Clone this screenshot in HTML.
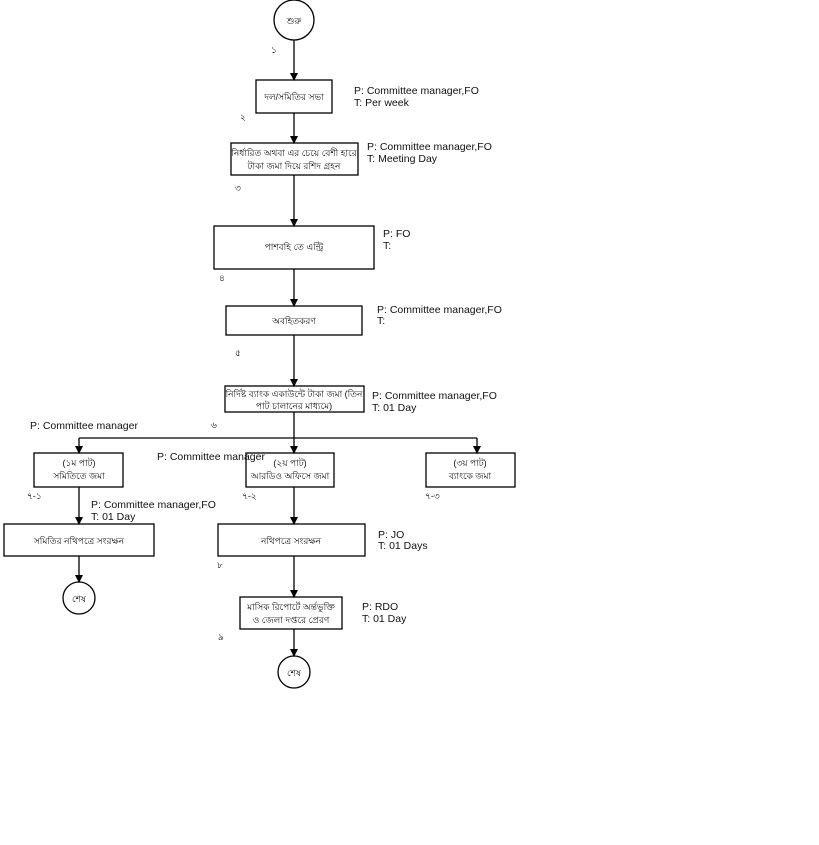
<!DOCTYPE html>
<html><head><meta charset="utf-8"><style>
html,body{margin:0;padding:0;background:#fff;}
svg{display:block;}
text{font-family:"Liberation Sans","Noto Sans CJK SC",sans-serif;font-size:9px;fill:#111;}
.l{font-size:10.5px;}
</style></head><body>
<svg width="819" height="845" viewBox="0 0 819 845" xmlns="http://www.w3.org/2000/svg">
<defs><marker id="a" markerWidth="8" markerHeight="8" refX="7" refY="4" orient="auto" markerUnits="userSpaceOnUse"><path d="M0,0 L8,4 L0,8 z" fill="#000"/></marker></defs>
<g fill="none" stroke="#000" stroke-width="1.3">
<circle cx="294" cy="20" r="20"/>
<line x1="294" y1="40" x2="294" y2="80" marker-end="url(#a)"/>
<rect x="256" y="80" width="76" height="33"/>
<line x1="294" y1="113" x2="294" y2="143" marker-end="url(#a)"/>
<rect x="231" y="143" width="127" height="32"/>
<line x1="294" y1="175" x2="294" y2="226" marker-end="url(#a)"/>
<rect x="214" y="226" width="160" height="43"/>
<line x1="294" y1="269" x2="294" y2="306" marker-end="url(#a)"/>
<rect x="226" y="306" width="136" height="29"/>
<line x1="294" y1="335" x2="294" y2="386" marker-end="url(#a)"/>
<rect x="225" y="386" width="139" height="26"/>
<line x1="294" y1="412" x2="294" y2="438"/>
<line x1="79" y1="438" x2="477" y2="438"/>
<line x1="79" y1="438" x2="79" y2="453" marker-end="url(#a)"/>
<line x1="294" y1="438" x2="294" y2="453" marker-end="url(#a)"/>
<line x1="477" y1="438" x2="477" y2="453" marker-end="url(#a)"/>
<rect x="34" y="453" width="89" height="34"/>
<rect x="246" y="453" width="88" height="34"/>
<rect x="426" y="453" width="89" height="34"/>
<line x1="79" y1="487" x2="79" y2="524" marker-end="url(#a)"/>
<rect x="4" y="524" width="150" height="32"/>
<line x1="79" y1="556" x2="79" y2="582" marker-end="url(#a)"/>
<circle cx="79" cy="598" r="16"/>
<line x1="294" y1="487" x2="294" y2="524" marker-end="url(#a)"/>
<rect x="218" y="524" width="147" height="32"/>
<line x1="294" y1="556" x2="294" y2="597" marker-end="url(#a)"/>
<rect x="240" y="597" width="102" height="32"/>
<line x1="294" y1="629" x2="294" y2="656" marker-end="url(#a)"/>
<circle cx="294" cy="672" r="16"/>
</g>
<g text-anchor="middle">
<text x="294" y="24">শুরু</text>
<text x="294" y="100">দল/সমিতির সভা</text>
<text x="294" y="156">নির্ধারিত অথবা এর চেয়ে বেশী হারে</text>
<text x="294" y="169">টাকা জমা দিয়ে রশিদ গ্রহন</text>
<text x="294" y="250">পাশবহি তে এন্ট্রি</text>
<text x="294" y="324">অবহিতকরণ</text>
<text x="294" y="397">নির্দিষ্ট ব্যাংক একাউন্টে টাকা জমা  (তিন</text>
<text x="294" y="409">পাট চালানের মাধ্যমে)</text>
<text x="79" y="466">(১ম পাট)</text>
<text x="79" y="479">সমিতিতে জমা</text>
<text x="290" y="466">(২য় পাট)</text>
<text x="290" y="479">আরডিও অফিসে জমা</text>
<text x="470" y="466">(৩য় পাট)</text>
<text x="470" y="479">ব্যাংকে জমা</text>
<text x="79" y="544">সমিতির নথিপত্রে সংরক্ষন</text>
<text x="291" y="544">নথিপত্রে সংরক্ষন</text>
<text x="291" y="610">মাসিক রিপোর্টে অর্ন্তভুক্তি</text>
<text x="291" y="623">ও জেলা দপ্তরে প্রেরণ</text>
<text x="79" y="602">শেষ</text>
<text x="294" y="676">শেষ</text>
</g>
<text x="271" y="53">১</text>
<text x="240" y="120">২</text>
<text x="235" y="191">৩</text>
<text x="219" y="281">৪</text>
<text x="235" y="356">৫</text>
<text x="211" y="428">৬</text>
<text x="27" y="499">৭-১</text>
<text x="242" y="499">৭-২</text>
<text x="425" y="499">৭-৩</text>
<text x="217" y="568">৮</text>
<text x="218" y="640">৯</text>
<g class="l">
<text class="l" x="354" y="94">P:  Committee manager,FO</text>
<text class="l" x="354" y="106">T:  Per week</text>
<text class="l" x="367" y="150">P:  Committee manager,FO</text>
<text class="l" x="367" y="162">T:  Meeting Day</text>
<text class="l" x="383" y="237">P:  FO</text>
<text class="l" x="383" y="249">T:</text>
<text class="l" x="377" y="313">P:  Committee manager,FO</text>
<text class="l" x="377" y="324">T:</text>
<text class="l" x="372" y="399">P:  Committee manager,FO</text>
<text class="l" x="372" y="411">T:  01 Day</text>
<text class="l" x="30" y="429">P:  Committee manager</text>
<text class="l" x="157" y="460">P:  Committee manager</text>
<text class="l" x="91" y="508">P:  Committee manager,FO</text>
<text class="l" x="91" y="520">T:  01 Day</text>
<text class="l" x="378" y="538">P: JO</text>
<text class="l" x="378" y="549">T: 01 Days</text>
<text class="l" x="362" y="610">P: RDO</text>
<text class="l" x="362" y="622">T:  01 Day</text>
</g>
</svg>
</body></html>
